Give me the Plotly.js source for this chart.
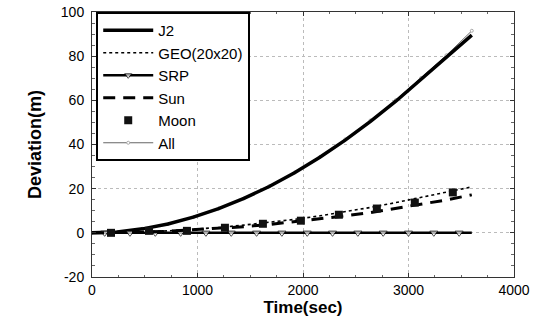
<!DOCTYPE html>
<html>
<head>
<meta charset="utf-8">
<script src="https://cdn.plot.ly/plotly-3.0.1.min.js"></script>
<style>html,body{margin:0;padding:0;background:#fff;}#chart{width:541px;height:323px;}</style>
</head>
<body>
<div id="chart"></div>
<script>
// Time axis samples (sec)
const timeSec = [0, 240, 480, 720, 960, 1200, 1440, 1680, 1920, 2160, 2400, 2640, 2880, 3120, 3360, 3600];
// Series values (m)
const j2 = [0, 0.4, 1.8, 4.0, 7.1, 11.0, 15.6, 21.0, 27.2, 34.2, 42.0, 50.5, 59.6, 69.4, 79.4, 89.5];
const geo = [0, 0.1, 0.4, 0.9, 1.6, 2.4, 3.5, 4.7, 6.1, 7.7, 9.5, 11.5, 13.7, 16.0, 18.3, 20.8];
const sun = [0, 0.1, 0.3, 0.7, 1.3, 2.0, 2.8, 3.8, 5.0, 6.2, 7.7, 9.2, 11.0, 12.9, 14.9, 17.2];
const all = [0, 0.4, 1.8, 4.0, 7.1, 11.0, 15.6, 21.1, 27.3, 34.4, 42.3, 50.9, 60.1, 70.1, 80.4, 91.5];
const srpTime = [0, 120, 360, 600, 840, 1080, 1320, 1560, 1800, 2040, 2280, 2520, 2760, 3000, 3240, 3480, 3600];
const srp = [0, 0, 0, 0, 0, 0, 0, 0, 0, 0, 0, 0, 0, 0, 0, 0, 0];
const moonTime = [180, 540, 900, 1260, 1620, 1980, 2340, 2700, 3060, 3420];
const moon = [0, 0.9, 0.9, 2.3, 4.1, 5.5, 8.2, 11.0, 13.7, 18.3];
const names = ["J2", "GEO(20x20)", "SRP", "Sun", "Moon", "All"];
const xTickVals = [0, 1000, 2000, 3000, 4000];
const yTickVals = [-20, 0, 20, 40, 60, 80, 100];

const srpSizes = srpTime.map((t, i) => (i === 0 || i === srpTime.length - 1) ? 0 : 7);
const FONT = 'Liberation Sans, Arial, sans-serif';

// "All" is drawn first (underneath J2) but listed last in the legend
const traces = [
  {x: timeSec, y: all, name: names[5], legendrank: 6, mode: 'lines+markers', line: {color: '#666', width: 1},
   marker: {symbol: 'circle', size: 3, color: '#fff', line: {color: '#aaa', width: 1}}},
  {x: timeSec, y: j2, name: names[0], legendrank: 1, mode: 'lines', line: {color: '#000', width: 3.5}},
  {x: timeSec, y: geo, name: names[1], legendrank: 2, mode: 'lines', line: {color: '#000', width: 1.6, dash: 'dot'}},
  {x: srpTime, y: srp, name: names[2], legendrank: 3, mode: 'lines+markers', line: {color: '#000', width: 2.5},
   marker: {symbol: 'triangle-down', size: srpSizes, color: '#fff', line: {color: '#000', width: 1}}},
  {x: timeSec, y: sun, name: names[3], legendrank: 4, mode: 'lines', line: {color: '#000', width: 3, dash: '12px,8px'}},
  {x: moonTime, y: moon, name: names[4], legendrank: 5, mode: 'markers', marker: {symbol: 'square', size: 8, color: '#111'}}
];

const layout = {
  width: 541, height: 323,
  margin: {l: 92, r: 27, t: 12, b: 46},
  paper_bgcolor: '#fff', plot_bgcolor: '#fff',
  font: {family: FONT, color: '#000', size: 14},
  showlegend: true,
  legend: {
    x: 0.01, y: 1, xanchor: 'left', yanchor: 'top',
    bgcolor: '#fff', bordercolor: '#000', borderwidth: 2,
    font: {size: 15, family: FONT},
    itemwidth: 50, tracegroupgap: 0, traceorder: 'normal'
  },
  xaxis: {
    range: [0, 4000], tickvals: xTickVals, ticktext: xTickVals.map(String),
    showgrid: true, gridcolor: '#bbb', griddash: 'dot', gridwidth: 1,
    zeroline: false, showline: true, linecolor: '#333', linewidth: 1, mirror: 'ticks',
    ticks: 'inside', ticklen: 4, tickcolor: '#333',
    minor: {dtick: 250, ticks: 'inside', ticklen: 2, tickcolor: '#666', showgrid: false},
    title: {text: 'Time(sec)', font: {size: 17, family: FONT, weight: 'bold'}, standoff: 2},
    tickfont: {size: 14}
  },
  yaxis: {
    range: [-20, 100], tickvals: yTickVals, ticktext: yTickVals.map(String),
    showgrid: true, gridcolor: '#bbb', griddash: 'dot', gridwidth: 1,
    zeroline: false, showline: true, linecolor: '#333', linewidth: 1, mirror: 'ticks',
    ticks: 'inside', ticklen: 4, tickcolor: '#333', ticklabelstandoff: 4,
    minor: {dtick: 5, ticks: 'inside', ticklen: 3, tickcolor: '#666', showgrid: false},
    title: {text: 'Deviation(m)', font: {size: 18, family: FONT, weight: 'bold'}, standoff: 14},
    tickfont: {size: 14}
  }
};

Plotly.newPlot('chart', traces, layout, {staticPlot: true, displayModeBar: false});
</script>
</body>
</html>
